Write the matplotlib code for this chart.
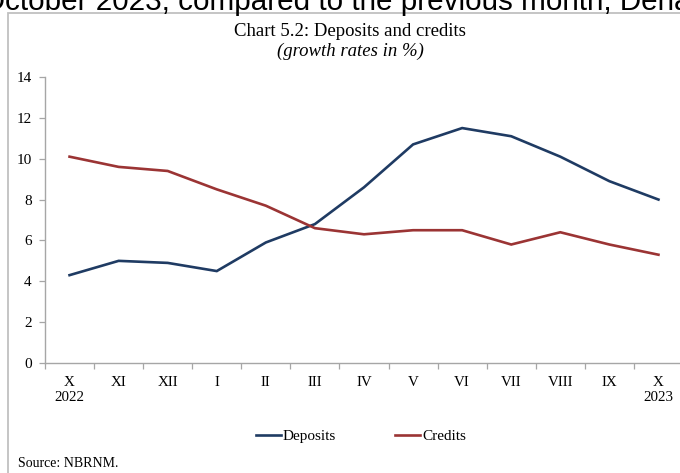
import matplotlib
matplotlib.use("Agg")
import matplotlib.pyplot as plt
from matplotlib.patches import Rectangle

# Monthly growth rates, Oct 2022 - Oct 2023 (%)
months = ["X\n2022", "XI", "XII", "I", "II", "III", "IV", "V", "VI",
          "VII", "VIII", "IX", "X\n2023"]
deposits = [4.3, 5.0, 4.9, 4.5, 5.9, 6.8, 8.6, 10.7, 11.5, 11.1, 10.1, 8.9, 8.0]
credits = [10.1, 9.6, 9.4, 8.5, 7.7, 6.6, 6.3, 6.5, 6.5, 5.8, 6.4, 5.8, 5.3]
y_ticks = [0, 2, 4, 6, 8, 10, 12, 14]

DEP_COLOR = "#1f3b63"
CRED_COLOR = "#9b3434"
AXIS_GRAY = "#a6a6a6"

plt.rcParams["font.family"] = ["Liberation Serif", "DejaVu Serif"]

fig = plt.figure(figsize=(6.8, 4.73), dpi=100)
ax = fig.add_axes([45 / 680, 1 - 363 / 473, 638 / 680, 286 / 473])

x = list(range(len(months)))
ax.plot(x, deposits, color=DEP_COLOR, linewidth=1.9, label="Deposits",
        solid_joinstyle="miter")
ax.plot(x, credits, color=CRED_COLOR, linewidth=1.9, label="Credits",
        solid_joinstyle="miter")

ax.set_xlim(-0.5, len(months) - 0.5)
ax.set_ylim(0, 14)
ax.set_yticks(y_ticks)
ax.set_yticklabels([str(v) for v in y_ticks], fontsize=11)

# category boundaries carry the tick marks, labels sit on the centres
ax.set_xticks([i - 0.5 for i in range(len(months) + 1)])
ax.set_xticklabels([])
ax.set_xticks(x, minor=True)
ax.set_xticklabels(months, minor=True, fontsize=10.8, linespacing=1.25)
ax.tick_params(axis="x", which="major", length=4, color=AXIS_GRAY, width=0.9)
ax.tick_params(axis="x", which="minor", length=0, pad=9)
ax.tick_params(axis="y", length=4, color=AXIS_GRAY, width=0.9, pad=5.5)

for side in ("top", "right"):
    ax.spines[side].set_visible(False)
for side in ("left", "bottom"):
    ax.spines[side].set_color(AXIS_GRAY)
    ax.spines[side].set_linewidth(1.0)

fig.text(350 / 680, 1 - 31 / 473, "Chart 5.2: Deposits and credits",
         ha="center", va="center", fontsize=13.5)
fig.text(350 / 680, 1 - 51 / 473, "(growth rates in %)",
         ha="center", va="center", fontsize=13.5, style="italic")

fig.legend(loc="center", bbox_to_anchor=(361 / 680, 1 - 436 / 473), ncol=2,
           frameon=False, fontsize=11, handlelength=1.6, handletextpad=0.13,
           columnspacing=3.9)

fig.text(18 / 680, 1 - 463 / 473, "Source: NBRNM.", ha="left", va="center",
         fontsize=10)

# surrounding box of the chart panel
fig.add_artist(Rectangle((7.5 / 680, -0.2), 1.0, 1.2 - 13 / 473,
                         transform=fig.transFigure, fill=False,
                         edgecolor="#c0c0c0", linewidth=1.3, clip_on=False))

# running text of the page above the panel
fig.text(-18 / 680, 1 - 10 / 473,
         "October 2023, compared to the previous month, Denar",
         ha="left", va="baseline", fontsize=21.3, family="Liberation Sans")

fig.savefig("out.png", dpi=100)
